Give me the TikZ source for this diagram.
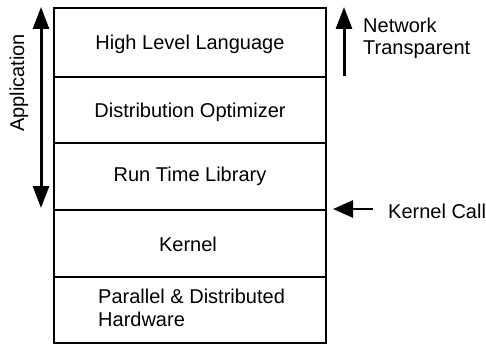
\documentclass[tikz,border=0pt]{standalone}
\usepackage{fontspec}
\setmainfont{Liberation Sans}
\usetikzlibrary{arrows.meta}
\begin{document}
\begin{tikzpicture}[x=1pt,y=-1pt,
  lbl/.style={font=\fontsize{20}{23}\selectfont, inner sep=0pt, anchor=base},
  layerline/.style={line width=1.4pt},
  bigarrow/.style={line width=3pt, -{Triangle[width=16pt,length=22pt]}},
  botharrow/.style={line width=3pt, {Triangle[width=16pt,length=22pt]}-{Triangle[width=16pt,length=22pt]}}
]
\useasboundingbox (0,0) rectangle (486,345);

% layer stack
\coordinate (tl) at (54,8);
\coordinate (br) at (326,343);
\draw[line width=2.8pt] (tl) rectangle (br);
\draw[layerline] (54,77) -- (326,77);
\draw[layerline] (54,143) -- (326,143);
\draw[line width=2.8pt] (54,210) -- (326,210);
\draw[line width=2pt] (54,277) -- (326,277);

% layer labels
\node[lbl] (hll) at (190,49) {High Level Language};
\node[lbl] (dop) at (190,117) {Distribution Optimizer};
\node[lbl] (rtl) at (190,181) {Run Time Library};
\node[lbl] (krn) at (188,251) {Kernel};
\node[lbl, anchor=base west] (par) at (98,303) {Parallel \& Distributed};
\node[lbl, anchor=base west] (hw) at (98,326) {Hardware};

% application span
\coordinate (apptop) at (41,7);
\coordinate (appbot) at (41,208);
\draw[botharrow] (apptop) -- (appbot);
\node[lbl, rotate=90] (app) at (24,83) {Application};

% network transparent
\coordinate (ntbot) at (344,76);
\coordinate (nttop) at (344,7);
\draw[bigarrow] (ntbot) -- (nttop);
\node[lbl, anchor=base west] (nt1) at (363,33) {Network};
\node[lbl, anchor=base west] (nt2) at (363,55) {Transparent};

% kernel call
\coordinate (kcfrom) at (373,209);
\coordinate (kcto) at (333,209);
\draw[line width=2.5pt, -{Triangle[width=17pt,length=20pt]}] (kcfrom) -- (kcto);
\node[lbl, anchor=base west] (kc) at (388,218) {Kernel Call};
\end{tikzpicture}
\end{document}
